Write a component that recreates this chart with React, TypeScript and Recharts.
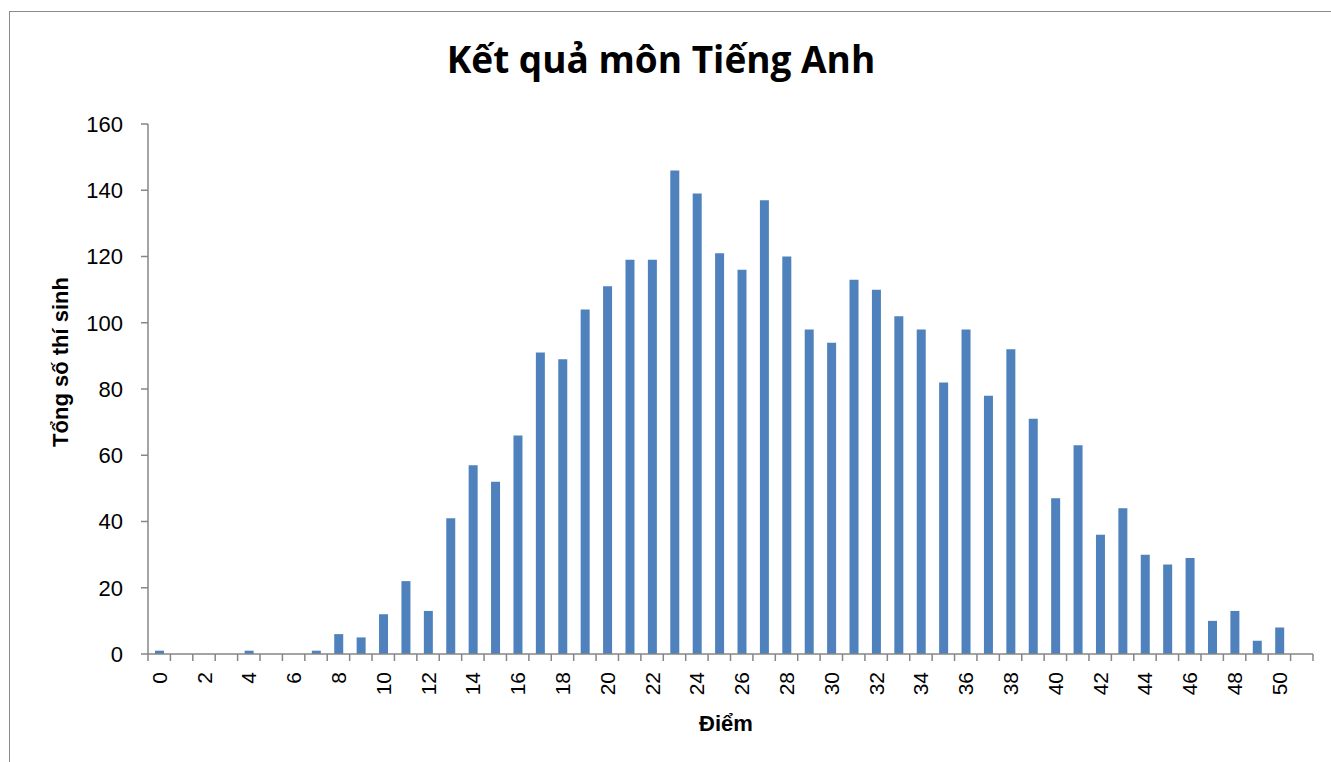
import React from "react";
import { BarChart, Bar, XAxis, YAxis } from "recharts";

// --- Data ---
const scores = [
  "0", "1", "2", "3", "4", "5", "6", "7", "8", "9",
  "10", "11", "12", "13", "14", "15", "16", "17", "18", "19",
  "20", "21", "22", "23", "24", "25", "26", "27", "28", "29",
  "30", "31", "32", "33", "34", "35", "36", "37", "38", "39",
  "40", "41", "42", "43", "44", "45", "46", "47", "48", "49",
  "50", "51",
];
const counts = [
  1, 0, 0, 0, 1, 0, 0, 1, 6, 5,
  12, 22, 13, 41, 57, 52, 66, 91, 89, 104,
  111, 119, 119, 146, 139, 121, 116, 137, 120, 98,
  94, 113, 110, 102, 98, 82, 98, 78, 92, 71,
  47, 63, 36, 44, 30, 27, 29, 10, 13, 4,
  8, null,
];
const yTicks = [0, 20, 40, 60, 80, 100, 120, 140, 160];

const TITLE = "Kết quả môn Tiếng Anh";
const Y_TITLE = "Tổng số thí sinh";
const X_TITLE = "Điểm";

// --- Layout ---
const W = 1331;
const H = 762;
const PLOT_LEFT = 148;
const PLOT_RIGHT = 1313;
const PLOT_TOP = 124;
const PLOT_BOTTOM = 654;
const Y_AXIS_W = 80;
const X_AXIS_H = 60;
const TICK = 7;
const X_TICK_GAP = 11;
const AXIS_COLOR = "#868686";
const BAR_COLOR = "#4F81BD";
const SANS = "'Liberation Sans', Arial, sans-serif";

const data = scores.map((s, i) => ({ diem: s, count: counts[i] }));

// Excel style category axis: ticks on the category boundaries, every second label
const XTick = (props: any) => {
  const { x, y, payload, index } = props;
  const band = (PLOT_RIGHT - PLOT_LEFT) / scores.length;
  const axisY = y - TICK - X_TICK_GAP;
  const isLast = index === scores.length - 1;
  const showLabel = index % 2 === 0 && !isLast;
  return (
    <g>
      <line x1={x - band / 2} x2={x - band / 2} y1={axisY} y2={axisY + TICK} stroke={AXIS_COLOR} strokeWidth={1.5} />
      {isLast && (
        <line x1={x + band / 2} x2={x + band / 2} y1={axisY} y2={axisY + TICK} stroke={AXIS_COLOR} strokeWidth={1.5} />
      )}
      {showLabel && (
        <text
          x={x}
          y={y}
          transform={`rotate(-90, ${x}, ${y})`}
          textAnchor="end"
          dominantBaseline="central"
          fontSize={21}
          fontFamily={SANS}
          fill="#000"
        >
          {payload.value}
        </text>
      )}
    </g>
  );
};

export default function App() {
  return (
    <div style={{ position: "fixed", left: 0, top: 0, width: W, height: H, background: "#fff", overflow: "hidden" }}>
      {/* chart frame */}
      <div
        style={{
          position: "absolute",
          left: 9,
          top: 11,
          width: 1400,
          height: 900,
          border: "1.5px solid #8a8a8a",
          boxSizing: "border-box",
        }}
      />

      <div style={{ position: "absolute", left: 0, top: 0 }}>
        <BarChart
          width={W}
          height={H}
          data={data}
          margin={{
            top: PLOT_TOP,
            left: PLOT_LEFT - Y_AXIS_W,
            right: W - PLOT_RIGHT,
            bottom: H - PLOT_BOTTOM - X_AXIS_H,
          }}
        >
          <XAxis
            dataKey="diem"
            interval={0}
            height={X_AXIS_H}
            tick={<XTick />}
            tickLine={false}
            tickSize={TICK}
            tickMargin={X_TICK_GAP}
            axisLine={{ stroke: AXIS_COLOR, strokeWidth: 1.5 }}
          />
          <YAxis
            domain={[0, 160]}
            ticks={yTicks}
            interval={0}
            width={Y_AXIS_W}
            tickSize={TICK}
            tickMargin={18}
            tick={{ fill: "#000", fontSize: 22, fontFamily: SANS }}
            tickLine={{ stroke: AXIS_COLOR, strokeWidth: 1.5 }}
            axisLine={{ stroke: AXIS_COLOR, strokeWidth: 1.5 }}
          />
          <Bar dataKey="count" fill={BAR_COLOR} barSize={9} isAnimationActive={false} />
        </BarChart>
      </div>

      {/* titles */}
      <svg width={W} height={H} style={{ position: "absolute", left: 0, top: 0, pointerEvents: "none" }}>
        <text x={661} y={73} textAnchor="middle" fontSize={37} fontWeight="bold" fontFamily="'Open Sans', sans-serif" fill="#000">
          {TITLE}
        </text>
        <text
          x={60}
          y={362}
          transform="rotate(-90, 60, 362)"
          textAnchor="middle"
          dominantBaseline="central"
          fontSize={22}
          fontWeight="bold"
          fontFamily={SANS}
          fill="#000"
        >
          {Y_TITLE}
        </text>
        <text x={726} y={731} textAnchor="middle" fontSize={22} fontWeight="bold" fontFamily={SANS} fill="#000">
          {X_TITLE}
        </text>
      </svg>
    </div>
  );
}
